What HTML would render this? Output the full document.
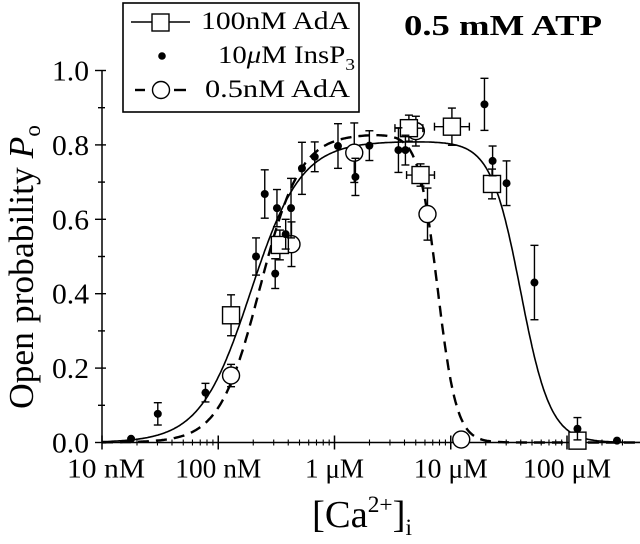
<!DOCTYPE html>
<html><head><meta charset="utf-8"><style>
html,body{margin:0;padding:0;background:#fff;}
svg{display:block;font-family:"Liberation Serif",serif;}
</style></head><body>
<svg id="chart" width="640" height="544" viewBox="0 0 640 544" xmlns="http://www.w3.org/2000/svg">
<g id="axes"></g>
<g id="curves"></g>
<g id="marks"></g>
<text x="404" y="35" font-size="28" font-weight="bold" textLength="198" lengthAdjust="spacingAndGlyphs">0.5 mM ATP</text>
<g>
<rect x="123" y="3" width="236" height="109" fill="#fff" stroke="#000" stroke-width="1.6"/>
<g>
<line x1="131" y1="22" x2="190" y2="22" stroke="#000" stroke-width="1.4"/>
<rect x="152" y="14" width="17" height="17" fill="#fff" stroke="#000" stroke-width="1.4"/>
<text x="201" y="29" font-size="25" textLength="149" lengthAdjust="spacingAndGlyphs">100nM AdA</text></g>
<g>
<circle cx="162" cy="56" r="3.8" fill="#000"/>
<text x="218" y="63" font-size="25" textLength="137" lengthAdjust="spacingAndGlyphs">10<tspan font-style="italic">μ</tspan>M InsP<tspan font-size="17" dy="7">3</tspan></text></g>
<g>
<line x1="135" y1="90" x2="145" y2="90" stroke="#000" stroke-width="2.4"/>
<line x1="174" y1="90" x2="186" y2="90" stroke="#000" stroke-width="2.4"/>
<circle cx="161" cy="90" r="8.5" fill="#fff" stroke="#000" stroke-width="1.4"/>
<text x="205" y="97" font-size="25" textLength="145" lengthAdjust="spacingAndGlyphs">0.5nM AdA</text></g>
</g>
<text transform="translate(33,409) rotate(-90)" font-size="35" textLength="284" lengthAdjust="spacingAndGlyphs">Open probability <tspan font-style="italic">P</tspan><tspan font-size="23" dy="7">o</tspan></text>
<text x="312" y="527" font-size="38" textLength="100" lengthAdjust="spacingAndGlyphs">[Ca<tspan font-size="23" dy="-15">2+</tspan><tspan dy="15">]</tspan><tspan font-size="23" dy="8">i</tspan></text>
</svg>
<script>
// data (log10 of [Ca2+] in M, Po, error)
const insp3LogCa = [-7.75,-7.52,-7.11,-6.675,-6.60,-6.495,-6.374,-6.51,-6.42,-6.28,-6.17,-5.97,-5.82,-5.70,-5.45,-5.39,-4.71,-4.64,-4.52,-4.28,-3.91,-3.57];
const insp3Po    = [0.01,0.077,0.134,0.50,0.668,0.63,0.63,0.454,0.56,0.737,0.768,0.797,0.714,0.798,0.786,0.786,0.909,0.757,0.697,0.43,0.037,0.005];
const insp3Err   = [0,0.03,0.025,0.05,0.065,0.05,0.08,0.04,0.04,0.07,0.04,0.06,0.05,0.04,0.06,0.04,0.07,0.04,0.06,0.1,0.03,0];
const ada100LogCa = [-6.89,-6.47,-5.36,-5.26,-4.99,-4.645,-3.91];
const ada100Po    = [0.342,0.531,0.845,0.719,0.849,0.695,0.005];
const ada100Err   = [0.055,0.04,0.035,0.03,0.05,0.04,0];
const ada100XErr  = [0,0,0.12,0.12,0.15,0,0];
const ada05LogCa = [-6.89,-6.37,-5.83,-5.30,-5.20,-4.91];
const ada05Po    = [0.18,0.533,0.779,0.837,0.614,0.008];
const ada05Err   = [0.03,0.06,0.08,0.04,0.07,0];
// bell-shaped fit parameters: [Pmax, Ka(M), nA, Ki(M), nI]
const solidFit  = [0.81, 1.9e-7, 2.0, 4.0e-5, 3.4];
const dashedFit = [0.83, 2.28e-7, 2.5, 7.7e-6, 5.3];
const xTickLabels = ["10 nM","100 nM","1 μM","10 μM","100 μM"];
const xTickWidths = [78,86,59,74,88];
const yTickLabels = ["0.0","0.2","0.4","0.6","0.8","1.0"];

const NS="http://www.w3.org/2000/svg";
const X0=102, DEC=116.25, Y0=442.5, YS=372, XEND=633;
const xs = lc => X0 + (lc + 8) * DEC;
const ys = p => Y0 - p * YS;
function mk(tag, attrs, parent){const e=document.createElementNS(NS,tag);for(const k in attrs)e.setAttribute(k,attrs[k]);parent.appendChild(e);return e;}
const axes=document.getElementById('axes'), curves=document.getElementById('curves'), marks=document.getElementById('marks');

let l=mk('line',{x1:X0,y1:Y0,x2:XEND,y2:Y0,stroke:'#000','stroke-width':1.5},axes);


l=mk('line',{x1:X0,y1:Y0,x2:X0,y2:ys(1.0),stroke:'#000','stroke-width':1.5},axes);


for(let d=0; d<5; d++){
  const x=xs(-8+d);
  mk('line',{x1:x,y1:Y0-7,x2:x,y2:Y0+7,stroke:'#000','stroke-width':1.5},axes);
  const w=xTickWidths[d];
  const t=mk('text',{x:x-w/2+(d===0?4:0),y:Y0+35,'font-size':27,textLength:w,lengthAdjust:'spacingAndGlyphs'},axes);
  t.textContent=xTickLabels[d];
  
  
  for(let m=2;m<=9;m++){
    const xm=xs(-8+d+Math.log10(m));
    if(xm>XEND) break;
    mk('line',{x1:xm,y1:Y0-3,x2:xm,y2:Y0+3,stroke:'#000','stroke-width':1.1},axes);
  }
}
for(let i=0;i<=10;i++){
  const y=ys(i/10), major=i%2===0;
  mk('line',{x1:X0-(major?7:4),y1:y,x2:X0+(major?4:3),y2:y,stroke:'#000','stroke-width':1.4},axes);
  if(major){
    const t=mk('text',{x:52,y:y+10,'font-size':28,textLength:37,lengthAdjust:'spacingAndGlyphs'},axes);
    t.textContent=yTickLabels[i/2];
    
    
  }
}
function bell(f,lc){const c=Math.pow(10,lc);return f[0]/((1+Math.pow(f[1]/c,f[2]))*(1+Math.pow(c/f[3],f[4])));}
function curvePath(f){let d='';for(let lc=-8;lc<=-3.35;lc+=0.01){d+=(d?'L':'M')+xs(lc).toFixed(1)+','+ys(bell(f,lc)).toFixed(1);}return d;}
let p=mk('path',{d:curvePath(solidFit),fill:'none',stroke:'#000','stroke-width':1.6},curves);


p=mk('path',{d:curvePath(dashedFit),fill:'none',stroke:'#000','stroke-width':2.4,'stroke-dasharray':'11,7'},curves);



function errBar(x,y,e,g){ if(e<=0) return; const h=e*YS;
  mk('line',{x1:x,y1:y-h,x2:x,y2:y+h,stroke:'#000','stroke-width':1.4},g);
  mk('line',{x1:x-4,y1:y-h,x2:x+4,y2:y-h,stroke:'#000','stroke-width':1.4},g);
  mk('line',{x1:x-4,y1:y+h,x2:x+4,y2:y+h,stroke:'#000','stroke-width':1.4},g);}
function xErrBar(lc,y,e,g){ if(e<=0) return; const a=xs(lc-e),b=xs(lc+e);
  mk('line',{x1:a,y1:y,x2:b,y2:y,stroke:'#000','stroke-width':1.4},g);
  mk('line',{x1:a,y1:y-4,x2:a,y2:y+4,stroke:'#000','stroke-width':1.4},g);
  mk('line',{x1:b,y1:y-4,x2:b,y2:y+4,stroke:'#000','stroke-width':1.4},g);}

ada05LogCa.forEach((lc,i)=>{
  const g=mk('g',{},marks);
  
  
  const x=xs(lc),y=ys(ada05Po[i]);
  errBar(x,y,ada05Err[i],g);
  mk('circle',{cx:x,cy:y,r:8.5,fill:'#fff',stroke:'#000','stroke-width':1.4},g);
});
ada100LogCa.forEach((lc,i)=>{
  const g=mk('g',{},marks);
  
  
  const x=xs(lc),y=ys(ada100Po[i]);
  errBar(x,y,ada100Err[i],g);
  xErrBar(lc,y,ada100XErr[i],g);
  mk('rect',{x:x-8.5,y:y-8.5,width:17,height:17,fill:'#fff',stroke:'#000','stroke-width':1.4},g);
});
insp3LogCa.forEach((lc,i)=>{
  const g=mk('g',{},marks);
  
  
  const x=xs(lc),y=ys(insp3Po[i]);
  errBar(x,y,insp3Err[i],g);
  mk('circle',{cx:x,cy:y,r:4,fill:'#000'},g);
});
</script>
</body></html>
